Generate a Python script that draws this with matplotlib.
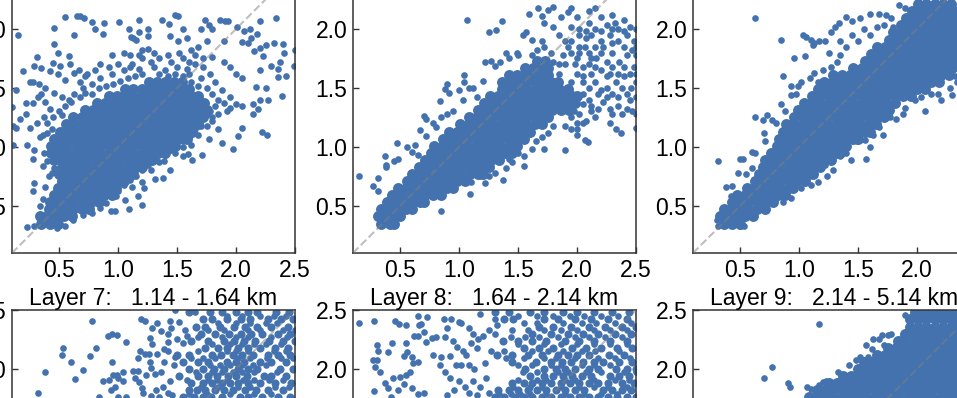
import matplotlib
matplotlib.use("Agg")
import matplotlib.pyplot as plt

plt.rcParams['font.family'] = ['Liberation Sans', 'DejaVu Sans']

# Values. "core" = filled regions, listed row by row (y, [x...]); "pts" = single dots (x, y).
titles = [None, None, None, "Layer 7:   1.14 - 1.64 km", "Layer 8:   1.64 - 2.14 km", "Layer 9:   2.14 - 5.14 km"]
ticks = [0.5, 1.0, 1.5, 2.0, 2.5]
lims = [0.1, 2.5]

core_a = [
 (.35,[.35,.42,.49]),(.41,[.34,.4,.47,.54,.61]),(.47,[.41,.48,.55,.62,.69,.75]),
 (.53,[.42,.49,.56,.63,.7,.77,.84]),(.59,[.46,.53,.6,.67,.74,.81,.88,.95]),
 (.65,[.49,.56,.63,.7,.77,.84,.91,.98]),(.71,[.52,.59,.66,.73,.8,.87,.94,1.01,1.05]),
 (.77,[.5,.57,.64,.71,.78,.85,.92,.99,1.06,1.13]),(.83,[.52,.59,.66,.73,.8,.87,.94,1.01,1.08,1.15,1.2]),
 (.89,[.46,.53,.6,.67,.74,.81,.88,.95,1.02,1.09,1.16,1.23,1.29]),
 (.95,[.43,.5,.57,.64,.71,.78,.85,.92,.99,1.06,1.13,1.2,1.27,1.34,1.4]),
 (1.01,[.43,.5,.57,.64,.71,.78,.85,.92,.99,1.06,1.13,1.2,1.27,1.34,1.41,1.48]),
 (1.07,[.46,.53,.6,.67,.74,.81,.88,.95,1.02,1.09,1.16,1.23,1.3,1.37,1.44,1.51,1.58]),
 (1.13,[.51,.58,.65,.72,.79,.86,.93,1.0,1.07,1.14,1.21,1.28,1.35,1.42,1.49,1.56,1.63]),
 (1.19,[.56,.63,.7,.77,.84,.91,.98,1.05,1.12,1.19,1.26,1.33,1.4,1.47,1.54,1.61,1.68]),
 (1.25,[.62,.69,.76,.83,.9,.97,1.04,1.11,1.18,1.25,1.32,1.39,1.46,1.53,1.6,1.67,1.72]),
 (1.31,[.72,.79,.86,.93,1.0,1.07,1.14,1.21,1.28,1.35,1.42,1.49,1.56,1.63,1.7,1.75]),
 (1.37,[.82,.89,.96,1.03,1.1,1.17,1.24,1.31,1.38,1.45,1.52,1.59,1.66,1.73]),
 (1.43,[.92,.99,1.06,1.13,1.2,1.27,1.34,1.41,1.48,1.55,1.62,1.68]),
 (1.49,[1.06,1.13,1.2,1.27,1.34,1.41,1.48,1.55,1.6]),(1.55,[1.26,1.33,1.4,1.47,1.54]),
]
pts_a = [(.55,2.1),(.65,2.11),(.68,2.11),(.71,2.09),(.46,2.01),(.63,1.95),(.15,1.95),(.46,1.87),(.49,1.8),(.58,1.77),(.31,1.76),
 (.78,2.06),(.88,2.05),(.8,2.0),(.87,1.96),(1.01,2.06),(1.09,2.0),(1.18,2.08),(1.18,1.97),(1.25,2.0),(1.25,1.94),(1.11,1.93),(1.13,1.92),(1.15,1.91),
 (1.37,2.08),(1.43,2.04),(1.48,2.12),(1.51,2.11),(1.55,2.0),(1.44,1.94),(1.51,1.9),(1.58,1.92),(1.74,2.08),(1.77,2.03),(1.7,2.0),(1.8,2.0),(1.86,2.08),
 (1.91,2.07),(1.93,2.07),(2.01,2.02),(2.07,1.98),(2.12,2.0),(2.18,1.96),(2.2,2.07),(2.34,2.09),(1.9,1.9),(2.05,1.89),(2.1,1.88),(2.13,1.92),(2.32,1.88),
 (2.4,1.87),(2.5,1.82),(2.41,1.8),(2.25,1.86),(2.2,1.84),(2.15,1.81),(2.37,1.72),(2.3,1.69),(2.49,1.69),(2.36,1.66),(2.36,1.59),(2.42,1.6),(2.23,1.77),
 (2.2,1.65),(2.17,1.51),(2.25,1.5),(2.2,1.4),(2.27,1.4),(2.39,1.43),(2.14,1.36),(2.19,1.32),(2.14,1.28),(2.22,1.13),(2.26,1.1),(2.02,1.09),(2.05,1.16),
 (1.97,.98),(1.88,1.03),(1.77,1.07),(1.71,.93),(1.63,.89),(1.59,.94),(1.55,.92),(1.09,.47),(.97,.46),(.94,.46),(1.2,.51),(1.17,.58),(1.22,.65),(1.06,.55),
 (1.31,.73),(1.38,.74),(1.44,.8),(1.35,.87),(1.39,.88),(.19,1.64),(.29,1.69),(.35,1.67),(.25,1.55),(.28,1.55),(.33,1.53),(.38,1.5),(.13,1.48),(.22,1.37),
 (.28,1.37),(.1,1.34),(.22,1.28),(.17,1.24),(.11,1.18),(.13,1.16),(.25,1.16),(.31,1.2),(.37,1.25),(.11,1.02),(.23,1.02),(.29,.97),(.28,.9),(.36,.84),
 (.29,.69),(.28,.63),(.23,.32),(.29,.33),(.41,.75),(.45,1.71),(.51,1.69),(.59,1.7),(.63,1.63),(.67,1.65),(.74,1.62),(.55,1.57),(.42,1.64),(.49,1.62),
 (.46,1.46),(.52,1.42),(.58,1.4),(.63,1.45),(.7,1.5),(.78,1.53),(.85,1.58),(.95,1.62),(1.05,1.65),(1.12,1.7),(1.2,1.75),(1.3,1.68),(1.4,1.65),(1.5,1.68),
 (1.58,1.66),(1.65,1.7),(1.72,1.68),(1.78,1.62),(1.82,1.55),(1.88,1.48),(1.95,1.42),(2.0,1.36),(2.05,1.35),(1.92,1.3),(1.85,1.28),(1.8,1.22),(1.85,1.15),
 (1.75,1.18),(1.68,1.1),(1.62,1.02),(1.55,1.0),(1.48,.95),(1.2,.7),(1.12,.66),(1.28,.8),(.85,1.7),(.95,1.78),(1.05,1.8),(1.2,1.82),(1.25,1.83),(1.3,1.8),
 (1.42,1.78),(1.55,1.75),(1.62,1.82),(1.68,1.85),(1.75,1.9),(1.8,1.76),(1.9,1.72),(1.95,1.68),(2.0,1.62),(2.05,1.58),(1.6,1.62),(1.7,1.58),(.38,1.38),(.42,1.32),
 (.4,1.12),(.34,1.08),(.37,.95),(.4,.88),(.38,.66),(.36,.56),(.34,.5),(.44,.78),(.46,.82),(.32,1.42),(.35,1.45),
 (.55,1.35),(.6,1.38),(.5,1.3),(.45,1.25),(.52,1.27),(.4,1.2),(.44,1.15),(.36,1.1),(.68,1.42),(.72,1.46),(.78,1.45),(.84,1.5),(.9,1.52),(.96,1.53),(1.02,1.56),(1.08,1.58),
 (1.14,1.6),(1.2,1.62),(1.1,1.68),(1.18,1.66),(.92,1.68),(1.0,1.7),(1.35,1.62),(1.42,1.6),(1.48,1.62),(1.55,1.6),(1.62,1.55),(1.68,1.52),(1.75,1.5),(1.8,1.45),(1.85,1.4),
 (1.9,1.37),(1.95,1.33),(1.82,1.35),(1.78,1.3),(1.8,1.25),(1.75,1.28),(1.7,1.18),(1.65,1.15),(1.6,1.08),(1.55,1.05),(1.5,1.0),(1.45,.97),(1.4,.93),(1.32,.9),(1.25,.85),
 (1.2,.8),(1.15,.75),(1.1,.72),(1.05,.68),(1.0,.63),(.98,.58),(.9,.52),(.85,.48),(.78,.44),(.7,.42),(.62,.38),(.55,.33),(.48,.31),(1.35,1.75),(1.45,1.72),(1.65,1.78),
 (1.72,1.75),(1.6,1.72),(1.28,1.72),(1.18,1.78),(1.1,1.78),(1.52,1.8),(.72,1.6),(.8,1.65),(.68,1.55)]

core_b = [
 (.35,[.34,.41,.45]),(.41,[.31,.38,.45,.5]),(.47,[.34,.41,.48,.55,.6]),(.53,[.39,.46,.53,.6,.67,.7]),
 (.59,[.43,.5,.57,.64,.71,.78,.85]),(.65,[.48,.55,.62,.69,.76,.83,.9,.95]),(.71,[.56,.63,.7,.77,.84,.91,.98,1.05]),
 (.77,[.6,.67,.74,.81,.88,.95,1.02,1.09,1.16,1.2]),(.83,[.66,.73,.8,.87,.94,1.01,1.08,1.15,1.22,1.25]),
 (.89,[.71,.78,.85,.92,.99,1.06,1.13,1.2,1.27,1.34]),(.95,[.76,.83,.9,.97,1.04,1.11,1.18,1.25,1.32,1.39,1.45]),
 (1.01,[.79,.86,.93,1.0,1.07,1.14,1.21,1.28,1.35,1.42,1.49]),(1.07,[.86,.93,1.0,1.07,1.14,1.21,1.28,1.35,1.42,1.49,1.55]),
 (1.13,[.91,.98,1.05,1.12,1.19,1.26,1.33,1.4,1.47,1.54,1.6]),(1.19,[1.01,1.08,1.15,1.22,1.29,1.36,1.43,1.5,1.57,1.64,1.7]),
 (1.25,[1.08,1.15,1.22,1.29,1.36,1.43,1.5,1.57,1.64,1.71,1.75]),
 (1.31,[1.16,1.23,1.3,1.37,1.44,1.51,1.58,1.65,1.72,1.79,1.86,1.93]),
 (1.37,[1.21,1.28,1.35,1.42,1.49,1.56,1.63,1.7,1.77,1.84,1.91,1.98]),
 (1.43,[1.26,1.33,1.4,1.47,1.54,1.61,1.68,1.75,1.82,1.89,1.96,2.0]),
 (1.49,[1.36,1.43,1.5,1.57,1.64,1.71,1.78,1.85,1.92]),(1.55,[1.36,1.43,1.5,1.57,1.64,1.71,1.78,1.84]),
 (1.61,[1.42,1.49,1.56,1.63,1.7,1.75]),(1.67,[1.56,1.63,1.7,1.75]),(1.73,[1.66,1.73]),
]
pts_b = [(.15,.75),(.27,.67),(.31,.74),(.31,.63),(.37,.92),(.38,.85),(.38,.83),(.47,1.03),(.45,.88),(.48,.9),(.56,1.0),(.6,.96),(.63,1.02),(.65,.93),
 (.7,1.26),(.72,1.24),(.67,1.14),(.72,1.09),(.78,1.2),(.8,1.17),(.84,1.39),(.9,1.53),(.88,1.49),(.91,1.46),(.85,1.25),(.9,1.28),(.95,1.3),(1.0,1.48),(1.03,1.4),
 (1.04,1.55),(1.04,1.61),(1.07,2.08),(1.08,1.5),(1.12,1.5),(1.15,1.42),(1.2,1.56),(1.22,1.72),(1.27,1.73),(1.3,1.69),(1.25,1.97),(1.31,1.99),(1.36,2.07),
 (1.35,1.72),(1.4,1.8),(1.42,1.75),(1.49,1.8),(1.5,1.78),(1.54,1.95),(1.57,1.97),(1.62,1.91),(1.59,2.13),(1.67,2.18),(1.7,2.11),(1.8,2.19),(1.75,2.16),
 (1.72,2.05),(1.8,2.02),(1.86,2.1),(1.95,2.18),(1.92,2.14),(1.85,1.95),(1.9,1.9),(2.0,2.1),(2.02,2.0),(2.1,2.15),(2.15,2.18),(2.2,2.1),(2.3,2.12),(2.4,2.08),
 (2.32,2.05),(2.45,2.02),(2.5,2.0),(2.28,1.95),(2.35,1.9),(2.42,1.95),(2.48,1.9),(2.15,2.0),(2.2,1.9),(1.95,1.8),(2.02,1.85),(2.08,1.92),(2.1,1.8),(2.16,1.75),
 (2.2,1.8),(2.25,1.72),(2.3,1.8),(2.36,1.72),(2.42,1.78),(2.48,1.68),(2.5,1.78),(2.05,1.68),(2.12,1.62),(2.2,1.65),(2.28,1.62),(2.33,1.55),(2.4,1.6),(2.46,1.5),
 (2.5,1.55),(2.05,1.55),(2.15,1.55),(2.25,1.5),(2.35,1.42),(2.45,1.4),(2.5,1.42),(2.42,1.32),(2.38,1.28),(2.3,1.28),(2.47,1.3),(2.5,1.28),(2.28,1.2),(2.33,1.15),
 (2.37,1.12),(2.5,1.16),(2.1,1.4),(2.18,1.32),(2.15,1.25),(2.08,1.22),(2.02,1.28),(2.0,1.2),(1.95,1.15),(2.0,1.1),(1.9,1.18),(1.8,1.18),(1.75,1.12),(1.7,1.08),
 (1.65,1.05),(1.62,.98),(1.72,.98),(1.9,.97),(2.07,1.06),(2.09,1.04),(1.5,.95),(1.55,.92),(1.42,.9),(1.45,.87),(1.55,.84),(1.4,.82),(1.37,.72),(1.3,.78),(1.25,.75),
 (1.22,.69),(1.09,.6),(.85,.46),(1.18,.75),(1.1,.7),(1.92,1.3),(1.85,1.3),(1.95,1.25),(2.05,1.36),(2.18,1.45),(2.12,1.75),(1.98,1.7),(1.9,1.7),(1.85,1.62),(1.8,1.72),
 (2.28,1.32),(2.22,1.38),(2.38,1.5),(2.42,1.45),(2.02,1.95),(2.1,2.05),(2.25,2.03),(2.35,2.0),
 (1.95,1.55),(2.0,1.62),(2.05,1.6),(2.1,1.7),(2.0,1.75),(2.15,1.68),(2.25,1.6),(2.3,1.68),(2.35,1.62),(2.4,1.68),(2.45,1.62),(2.5,1.62),(2.1,1.5),(2.2,1.48),(2.3,1.45),
 (2.05,1.45),(2.12,1.35),(2.25,1.42),(2.35,1.35),(2.02,1.8),(2.07,1.85),(2.15,1.85),(2.22,1.85),(2.3,1.88),(2.4,1.85),(2.47,1.82),(2.12,1.95),(2.2,1.98),(2.3,2.0),(2.4,1.98),
 (2.5,1.85),(2.08,1.98),(1.95,2.02),(1.92,1.85),(1.88,1.78),(1.85,1.7),(1.78,1.8),(1.72,1.85),(1.66,1.82),(1.7,1.9),(1.62,1.78),(1.95,1.9),(2.0,1.15),(2.05,1.2),(1.97,1.3),(2.12,1.3)]

core_c = [
 (.35,[.36,.43,.5]),(.41,[.33,.4,.47,.54,.61]),(.47,[.36,.43,.5,.57,.64,.71]),(.53,[.43,.5,.57,.64,.71,.78]),
 (.59,[.47,.54,.61,.68,.75,.82,.88]),(.65,[.56,.63,.7,.77,.84,.91,.95]),(.71,[.63,.7,.77,.84,.91,.98,1.05]),
 (.77,[.66,.73,.8,.87,.94,1.01,1.08,1.12]),(.83,[.69,.76,.83,.9,.97,1.04,1.11,1.18]),(.89,[.71,.78,.85,.92,.99,1.06,1.13,1.2,1.27]),
 (.95,[.76,.83,.9,.97,1.04,1.11,1.18,1.25,1.32,1.35]),(1.01,[.81,.88,.95,1.02,1.09,1.16,1.23,1.3,1.37,1.4]),
 (1.07,[.83,.9,.97,1.04,1.11,1.18,1.25,1.32,1.39,1.46,1.5]),(1.13,[.86,.93,1.0,1.07,1.14,1.21,1.28,1.35,1.42,1.49,1.56,1.6]),
 (1.19,[.89,.96,1.03,1.1,1.17,1.24,1.31,1.38,1.45,1.52,1.59,1.65]),(1.25,[.96,1.03,1.1,1.17,1.24,1.31,1.38,1.45,1.52,1.59,1.66,1.72]),
 (1.31,[.99,1.06,1.13,1.2,1.27,1.34,1.41,1.48,1.55,1.62,1.69,1.76]),(1.37,[1.04,1.11,1.18,1.25,1.32,1.39,1.46,1.53,1.6,1.67,1.74,1.81]),
 (1.43,[1.11,1.18,1.25,1.32,1.39,1.46,1.53,1.6,1.67,1.74,1.81,1.88,1.95]),
 (1.49,[1.16,1.23,1.3,1.37,1.44,1.51,1.58,1.65,1.72,1.79,1.86,1.93,2.0,2.07]),
 (1.55,[1.21,1.28,1.35,1.42,1.49,1.56,1.63,1.7,1.77,1.84,1.91,1.98,2.05,2.12,2.19]),
 (1.61,[1.29,1.36,1.43,1.5,1.57,1.64,1.71,1.78,1.85,1.92,1.99,2.06,2.13,2.2,2.27]),
 (1.67,[1.46,1.53,1.6,1.67,1.74,1.81,1.88,1.95,2.02,2.09,2.16,2.23,2.3]),
 (1.73,[1.56,1.63,1.7,1.77,1.84,1.91,1.98,2.05,2.12,2.19,2.26,2.33]),
 (1.79,[1.61,1.68,1.75,1.82,1.89,1.96,2.03,2.1,2.17,2.24,2.31]),
 (1.85,[1.66,1.73,1.8,1.87,1.94,2.01,2.08,2.15,2.22,2.29,2.34]),
 (1.91,[1.76,1.83,1.9,1.97,2.04,2.11,2.18,2.25,2.32]),(1.97,[1.8,1.87,1.94,2.01,2.08,2.15,2.22,2.29,2.34]),
 (2.03,[1.86,1.93,2.0,2.07,2.14,2.21,2.28,2.34]),(2.09,[1.91,1.98,2.05,2.12,2.19,2.26,2.33]),
 (2.15,[1.96,2.03,2.1,2.17,2.24,2.31]),(2.21,[2.01,2.08,2.15,2.22,2.29]),
]
pts_c = [(.63,2.09),(.85,1.91),(1.03,1.95),(1.06,1.93),(1.1,1.91),(1.13,1.88),(1.17,1.9),(1.12,1.86),(.96,1.75),(1.05,1.77),(.86,1.6),(.93,1.52),(.93,1.44),
 (.97,1.45),(.99,1.52),(1.02,1.55),(1.09,1.58),(1.13,1.63),(1.2,1.65),(1.16,1.55),(1.27,1.68),(1.32,1.72),(1.35,1.78),(1.4,1.85),(1.35,1.9),(1.45,1.95),(1.5,1.9),
 (1.25,1.8),(1.22,1.9),(1.27,1.97),(1.3,2.02),(1.34,2.05),(1.4,2.1),(1.45,2.07),(1.52,2.09),(1.55,2.0),(1.6,1.95),(1.66,2.02),(1.6,2.13),(1.68,2.13),(1.74,2.12),
 (1.78,2.09),(1.72,2.03),(1.83,1.95),(1.85,2.2),(1.9,2.18),(1.8,2.02),(.63,1.25),(.69,1.23),(.73,1.27),(.7,1.12),(.71,1.05),(.77,1.23),(.8,1.2),(.85,1.36),(.88,1.3),
 (.6,.96),(.63,.95),(.5,.9),(.52,.9),(.31,.88),(.48,.78),(.55,.77),(.6,.82),(.38,.66),(.43,.67),(.42,.58),(.3,.38),(.31,.33),(.5,.33),(.53,.33),(.86,.53),(.93,.57),
 (1.02,.65),(1.1,.68),(1.16,.7),(1.24,.75),(1.29,.8),(1.22,.85),(1.35,.92),(1.4,.95),(1.44,.89),(1.57,.9),(1.6,1.0),(1.56,1.06),(1.49,1.05),(1.63,1.1),(1.71,1.1),
 (1.68,1.17),(1.77,1.25),(1.82,1.24),(1.9,1.33),(1.98,1.4),(2.07,1.3),(2.03,1.42),(2.12,1.45),(2.18,1.45),(2.2,1.4),(2.3,1.44),(2.28,1.5),(1.88,1.28),(2.34,1.55),(2.32,1.6)]

core_d = [
 (1.76,[1.55,1.64,1.72,1.79,1.88,2.03,2.1,2.22,2.36,2.46]),(1.82,[1.6,1.67,1.74,1.82,1.9,1.97,2.08,2.17,2.27,2.4]),
 (1.88,[1.62,1.72,1.8,1.88,1.95,2.02,2.1,2.2,2.33,2.47]),(1.94,[1.52,1.68,1.76,1.84,1.93,2.0,2.09,2.24,2.3,2.42]),
 (2.0,[1.6,1.72,1.81,1.9,2.02,2.1,2.18,2.37,2.48]),(2.06,[1.55,1.68,1.76,1.92,2.0,2.07,2.2,2.3,2.42]),
 (2.12,[1.5,1.6,1.8,1.87,1.97,2.05,2.14,2.27,2.36,2.46]),(2.18,[1.74,1.85,1.92,2.02,2.1,2.2,2.33,2.44]),
 (2.24,[1.62,1.76,1.9,1.98,2.07,2.16,2.28,2.4,2.5]),(2.3,[1.7,1.82,1.94,2.04,2.13,2.22,2.36,2.46]),
 (2.36,[1.66,1.74,1.86,1.98,2.08,2.18,2.3,2.44]),(2.42,[1.72,1.8,1.92,2.04,2.12,2.27,2.38,2.48]),
 (2.48,[1.6,1.78,1.88,2.0,2.1,2.18,2.34,2.45]),
]
pts_d = [(.775,2.41),(.535,2.18),(.524,2.12),(.81,2.18),(.76,2.11),(.6,2.06),(.7,1.99),(.38,1.97),(.637,1.915),(.32,1.8),(.947,2.06),(.91,2.28),(.95,2.3),(.99,2.29),
 (1.07,2.23),(1.19,2.42),(1.23,2.41),(1.17,2.09),(1.185,2.15),(1.23,2.13),(1.26,2.13),(1.33,2.13),(1.29,2.21),(1.27,2.26),(1.29,2.35),(1.33,2.39),(1.36,2.32),(1.42,2.3),
 (1.44,2.41),(1.52,2.4),(1.39,2.17),(1.42,2.23),(1.42,2.15),(.87,1.9),(.92,1.91),(.96,1.95),(.99,1.95),(1.04,1.97),(1.0,1.92),(1.04,1.9),(1.13,1.98),(1.17,1.98),(1.14,1.92),
 (1.18,1.89),(1.24,1.95),(1.31,1.96),(1.27,2.06),(1.28,2.01),(1.39,2.06),(1.36,1.97),(.94,1.82),(.97,1.85),(.84,1.76),(1.0,1.76),(1.07,1.76),(1.21,1.8),(1.38,1.85),(1.32,1.82),
 (1.44,1.9),(1.46,1.78),(1.42,1.8),(1.35,1.76),(1.28,1.77),(1.48,2.5),(1.57,2.33),(1.55,2.22),(1.58,2.28),(1.48,2.1),(1.47,2.03),(1.5,2.25),(1.45,2.35),(1.65,2.48),(1.2,1.84),
 (1.6,1.79),(1.75,1.79),(1.95,1.79),(2.15,1.79),(2.3,1.79),(2.45,1.85),(1.7,1.85),(1.85,1.85),(2.02,1.85),(2.12,1.85),(2.33,1.85),(1.58,1.91),(1.76,1.91),(1.84,1.91),(1.92,1.91),
 (2.06,1.91),(2.15,1.91),(2.28,1.91),(2.4,1.91),(1.66,1.97),(1.8,1.97),(1.88,1.97),(1.97,1.97),(2.05,1.97),(2.15,1.97),(2.35,1.97),(1.78,2.03),(1.86,2.03),(1.95,2.03),(2.05,2.03),
 (2.14,2.03),(2.25,2.03),(1.62,2.09),(1.72,2.09),(1.82,2.09),(2.02,2.09),(2.12,2.09),(2.26,2.09),(2.38,2.09),(2.48,2.09),(1.68,2.15),(1.92,2.15),(2.0,2.15),(2.1,2.15),(2.32,2.15),
 (2.42,2.15),(1.8,2.21),(1.95,2.21),(2.05,2.21),(2.15,2.21),(2.25,2.21),(2.38,2.21),(1.68,2.27),(1.88,2.27),(2.0,2.27),(2.1,2.27),(2.3,2.27),(2.43,2.27),(1.76,2.33),(1.9,2.33),
 (2.1,2.33),(2.2,2.33),(2.4,2.33),(2.5,2.33),(1.85,2.39),(2.0,2.39),(2.12,2.39),(2.25,2.39),(2.35,2.39),(1.92,2.45),(2.05,2.45),(2.2,2.45),(2.32,2.45),(2.42,2.45)]

core_e = [
 (1.76,[1.3,1.38,1.47,1.55,1.62,1.7,1.78,1.86,1.94,2.02,2.1,2.18,2.26,2.34,2.42,2.5]),
 (1.82,[1.33,1.42,1.5,1.58,1.66,1.74,1.82,1.9,1.98,2.06,2.22,2.3,2.38,2.46]),
 (1.88,[1.45,1.55,1.62,1.7,1.78,1.86,1.94,2.02,2.1,2.18,2.26,2.38,2.48]),
 (1.94,[1.6,1.72,1.8,1.88,1.96,2.04,2.12,2.28,2.36,2.44]),
 (2.0,[1.56,1.72,1.82,1.9,1.98,2.1,2.18,2.33,2.42,2.5]),(2.06,[1.45,1.65,1.78,1.87,1.95,2.05,2.14,2.22,2.36,2.47]),
 (2.12,[1.32,1.45,1.58,1.7,1.84,1.92,2.0,2.1,2.27,2.4]),(2.18,[1.55,1.68,1.8,1.96,2.08,2.2,2.34,2.47]),
 (2.24,[1.37,1.5,1.62,1.74,1.9,2.02,2.14,2.28,2.42]),(2.3,[1.62,1.78,1.92,2.05,2.18,2.32,2.46]),
 (2.36,[1.68,1.8,1.95,2.1,2.24,2.38,2.5]),(2.42,[1.38,1.46,1.72,1.84,1.98,2.12,2.26,2.42]),
 (2.48,[1.3,1.42,1.6,1.72,1.88,2.0,2.14,2.3,2.44]),
]
pts_e = [(.15,2.39),(.28,2.41),(.46,2.41),(.49,2.38),(.3,2.2),(.31,2.15),(.27,2.08),(.3,2.08),(.29,2.02),(.33,1.97),(.28,1.81),(.4,2.14),(.43,2.22),(.37,1.88),(.4,1.84),(.44,1.92),
 (.42,1.76),(.55,2.37),(.65,2.45),(.73,2.44),(.66,2.37),(.68,2.38),(.7,2.31),(.65,2.28),(.62,2.28),(.55,2.22),(.53,2.11),(.56,2.14),(.6,2.1),(.61,2.05),(.65,2.06),(.58,1.97),
 (.55,1.95),(.5,1.93),(.53,1.87),(.6,1.84),(.48,1.82),(.65,1.79),(.7,1.8),(.77,2.26),(.72,2.23),(.8,2.27),(.88,2.27),(.9,2.35),(.87,2.42),(.93,2.42),(1.0,2.4),(1.02,2.39),
 (1.08,2.35),(1.12,2.3),(1.16,2.25),(1.2,2.28),(.95,2.24),(.98,2.19),(1.03,2.15),(1.06,2.12),(1.1,2.22),(1.15,2.18),(.78,2.12),(.85,2.1),(.92,2.11),(.97,2.03),(1.02,2.03),
 (1.08,2.03),(1.13,2.0),(.84,2.03),(.88,1.97),(.92,1.92),(1.0,1.9),(1.05,1.85),(1.12,1.9),(1.18,1.85),(1.23,1.92),(1.25,1.8),(1.15,1.78),(1.08,1.8),(.9,1.78),(.96,1.82),
 (1.22,2.05),(1.27,2.15),(1.3,2.3),(1.25,2.33),(1.3,2.42),(1.18,2.47),(1.32,2.37),
 (1.34,1.79),(1.44,1.79),(1.52,1.79),(1.6,1.79),(1.74,1.79),(1.9,1.79),(2.06,1.79),(2.2,1.79),(2.34,1.79),(1.46,1.85),(1.6,1.85),(1.7,1.85),(1.86,1.85),(2.02,1.85),(2.14,1.85),
 (2.26,1.85),(2.42,1.85),(1.5,1.91),(1.66,1.91),(1.74,1.91),(1.9,1.91),(1.98,1.91),(2.14,1.91),(2.32,1.91),(2.44,1.91),(1.54,1.97),(1.66,1.97),(1.84,1.97),(1.92,1.97),(2.08,1.97),
 (2.2,1.97),(2.4,1.97),(2.5,1.97),(1.5,2.03),(1.62,2.03),(1.78,2.03),(1.86,2.03),(2.04,2.03),(2.14,2.03),(2.28,2.03),(1.4,2.09),(1.55,2.09),(1.72,2.09),(1.82,2.09),(1.98,2.09),
 (2.18,2.09),(2.32,2.09),(2.45,2.09),(1.38,2.15),(1.62,2.15),(1.75,2.15),(1.88,2.15),(2.04,2.15),(2.15,2.15),(2.36,2.15),(1.5,2.21),(1.72,2.21),(1.86,2.21),(2.0,2.21),(2.14,2.21),
 (2.28,2.21),(2.42,2.21),(1.44,2.27),(1.56,2.27),(1.68,2.27),(1.84,2.27),(1.98,2.27),(2.1,2.27),(2.24,2.27),(2.38,2.27),(1.45,2.33),(1.58,2.33),(1.72,2.33),(1.86,2.33),(2.0,2.33),
 (2.14,2.33),(2.28,2.33),(2.42,2.33),(1.55,2.39),(1.66,2.39),(1.88,2.39),(2.04,2.39),(2.16,2.39),(2.32,2.39),(2.46,2.39),(1.5,2.45),(1.66,2.45),(1.8,2.45),(1.94,2.45),(2.06,2.45),(2.2,2.45),(2.35,2.45)]

core_f = [
 (1.76,[1.08,1.15,1.22,1.29,1.36,1.43,1.5,1.57,1.64,1.71,1.78,1.85,1.92,1.99,2.06,2.13,2.2,2.27,2.34]),
 (1.82,[1.15,1.22,1.29,1.36,1.43,1.5,1.57,1.64,1.71,1.78,1.85,1.92,1.99,2.06,2.13,2.2,2.27,2.34]),
 (1.88,[1.25,1.32,1.39,1.46,1.53,1.6,1.67,1.74,1.81,1.88,1.95,2.02,2.09,2.16,2.23,2.3]),
 (1.94,[1.37,1.44,1.51,1.58,1.65,1.72,1.79,1.86,1.93,2.0,2.07,2.14,2.21,2.28,2.34]),
 (2.0,[1.5,1.57,1.64,1.71,1.78,1.85,1.92,1.99,2.06,2.13,2.2,2.27,2.34]),
 (2.06,[1.55,1.62,1.69,1.76,1.83,1.9,1.97,2.04,2.11,2.18,2.25,2.32]),
 (2.12,[1.66,1.73,1.8,1.87,1.94,2.01,2.08,2.15,2.22,2.29,2.34]),
 (2.18,[1.75,1.82,1.89,1.96,2.03,2.1,2.17,2.24,2.31]),
 (2.24,[1.84,1.91,1.98,2.05,2.12,2.19,2.26,2.33]),
 (2.3,[1.9,1.97,2.04,2.11,2.18,2.25,2.32]),
 (2.36,[1.94,2.01,2.08,2.15,2.22,2.29,2.34]),
 (2.42,[1.94,2.01,2.08,2.15,2.22,2.29,2.34]),
 (2.48,[1.98,2.05,2.12,2.19,2.26,2.33]),
]
pts_f = [(1.17,2.38),(.77,2.02),(.7,1.92),(.905,1.88),(.925,1.85),(1.07,1.85),(1.1,1.83),(1.2,1.89),(1.23,1.9),(1.17,1.86),(1.33,1.97),(1.42,2.03),(1.48,2.08),(1.52,2.1),
 (1.58,2.1),(1.62,2.17),(1.57,2.2),(1.63,2.25),(1.68,2.25),(1.7,2.29),(1.75,2.29),(1.72,2.2),(1.78,2.3),(1.88,2.28),(1.92,2.42),(1.9,2.46)]

core_sizes = [62, 62, 62, 34, 34, 62]
panels = [(12,-30,core_a,pts_a),(353,-30,core_b,pts_b),(693,-30,core_c,pts_c),
          (12,310,core_d,pts_d),(353,310,core_e,pts_e),(693,310,core_f,pts_f)]
W,H = 957,398
SIDE = 283
BLUE = '#4472ae'

fig = plt.figure(figsize=(W/100,H/100),dpi=100)
for (left,top,core,pts),title,cs in zip(panels,titles,core_sizes):
    ax = fig.add_axes([left/W,(H-top-SIDE)/H,SIDE/W,SIDE/H])
    cx = [x for y,xs in core for x in xs]
    cy = [y for y,xs in core for x in xs]
    ax.scatter(cx,cy,s=cs,color=BLUE,linewidths=0,zorder=2)
    ax.scatter([p[0] for p in pts],[p[1] for p in pts],s=23,color=BLUE,linewidths=0,zorder=2)
    ax.plot(lims,lims,ls='--',color='gray',alpha=.5,lw=1.5,zorder=3)
    ax.set_xlim(lims); ax.set_ylim(lims)
    ax.set_xticks(ticks); ax.set_yticks(ticks)
    ax.set_xticklabels([f'{t:.1f}' for t in ticks]); ax.set_yticklabels([f'{t:.1f}' for t in ticks])
    ax.tick_params(direction='in',length=4,width=1,labelsize=16.5,color='#333333',pad=4)
    for s in ax.spines.values():
        s.set_linewidth(1.1); s.set_color('#333333')
    if title:
        ax.set_title(title,fontsize=16.5,pad=3.5)
fig.savefig('out.png',dpi=100)
